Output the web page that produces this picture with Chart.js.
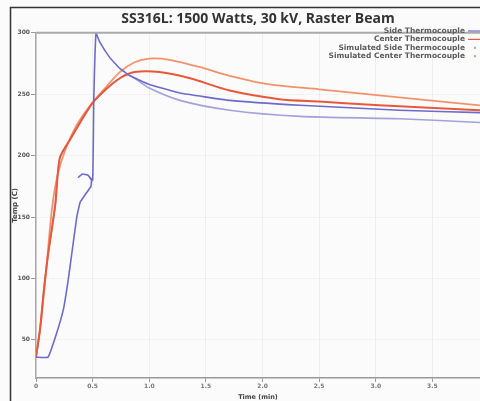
<!DOCTYPE html>
<html>
<head>
<meta charset="utf-8">
<script src="https://cdn.jsdelivr.net/npm/chart.js@4"></script>
<style>
  html, body { margin: 0; padding: 0; background: #fbfbfb; }
  #wrap { width: 480px; height: 401px; position: relative; }
</style>
</head>
<body>
<div id="wrap"><canvas id="c"></canvas></div>
<script>
// time (min) / temperature (C)
const sideTime = [0, 0.106, 0.17, 0.24, 0.28, 0.32, 0.36, 0.39, 0.44, 0.485, 0.49, 0.46, 0.41, 0.37, 0.41, 0.46, 0.50, 0.51, 0.53, 0.56, 0.65, 0.74, 0.83, 1.0, 1.27, 1.71, 2.33, 3.21, 3.92];
const sideTemp = [36, 36, 52, 74, 96, 123, 150, 162, 169, 175, 180, 184, 185, 182, 185, 184, 180, 245, 300, 293, 280, 271, 265, 258, 251, 245, 241, 237, 235];

const centerTime = [0, 0.035, 0.07, 0.106, 0.17, 0.21, 0.30, 0.39, 0.50, 0.63, 0.74, 0.87, 1.09, 1.36, 1.71, 2.15, 2.50, 3.03, 3.47, 3.92];
const centerTemp = [36, 58, 91, 119, 160, 198, 213, 227, 243, 255, 263, 268, 268, 263, 253, 246, 244, 241, 239, 237];

const simSideTime = [0, 0.035, 0.07, 0.106, 0.17, 0.21, 0.30, 0.39, 0.50, 0.63, 0.74, 0.80, 0.87, 1.0, 1.27, 1.71, 2.33, 3.21, 3.92];
const simSideTemp = [36, 58, 91, 119, 160, 198, 213, 227, 243, 255, 263, 266, 263, 255, 245, 237, 232, 230, 227];

const simCenterTime = [0, 0.045, 0.09, 0.14, 0.19, 0.26, 0.36, 0.48, 0.61, 0.74, 0.87, 1.0, 1.18, 1.45, 1.71, 2.06, 2.50, 3.03, 3.47, 3.92];
const simCenterTemp = [36, 66, 107, 156, 184, 205, 225, 241, 255, 268, 276, 279, 278, 272, 265, 258, 254, 249, 245, 241];

const seriesNames = ["Side Thermocouple", "Center Thermocouple", "Simulated Side Thermocouple", "Simulated Center Thermocouple"];
const xTicks = [0, 0.5, 1, 1.5, 2, 2.5, 3, 3.5];
const yTicks = [50, 100, 150, 200, 250, 300];

const COLORS = ["#6d6bc9", "#e8583a", "#a3a2d9", "#f0936c"];

function pts(xs, ys) {
    return xs.map((x, i) => ({ x: x, y: ys[i] }));
}

// frame around the figure, top border of the plot and a right-aligned legend
const framePlugin = {
    id: "frame",
    beforeDraw(chart) {
        const ctx = chart.ctx;
        ctx.save();
        ctx.strokeStyle = "#333";
        ctx.lineWidth = 1.5;
        ctx.beginPath();
        ctx.moveTo(490, 7.5);
        ctx.lineTo(10.5, 7.5);
        ctx.lineTo(10.5, 410);
        ctx.stroke();
        ctx.restore();
    },
    afterDatasetsDraw(chart) {
        const ctx = chart.ctx;
        const area = chart.chartArea;
        ctx.save();
        ctx.strokeStyle = "#aaa";
        ctx.lineWidth = 2;
        ctx.beginPath();
        ctx.moveTo(area.left, area.top);
        ctx.lineTo(area.right, area.top);
        ctx.stroke();

        ctx.font = "bold 7.5px 'DejaVu Sans', sans-serif";
        ctx.textAlign = "right";
        ctx.textBaseline = "middle";
        seriesNames.forEach((name, i) => {
            const y = 31 + i * 8.4;
            ctx.fillStyle = "#5a5a5a";
            ctx.fillText(name, 465, y);
            ctx.strokeStyle = COLORS[i];
            ctx.lineWidth = 1.2;
            if (i < 2) {
                ctx.beginPath();
                ctx.moveTo(468, y);
                ctx.lineTo(480, y);
                ctx.stroke();
            } else {
                ctx.fillStyle = COLORS[i];
                ctx.fillRect(474, y - 1, 2, 2);
            }
        });
        ctx.restore();
    },
};

new Chart(document.getElementById("c"), {
    type: "line",
    plugins: [framePlugin],
    data: {
        datasets: [
            { label: seriesNames[0], data: pts(sideTime, sideTemp), borderColor: COLORS[0], borderWidth: 1.6, tension: 0.1, order: 1 },
            { label: seriesNames[1], data: pts(centerTime, centerTemp), borderColor: COLORS[1], borderWidth: 2, order: 2 },
            { label: seriesNames[2], data: pts(simSideTime, simSideTemp), borderColor: COLORS[2], borderWidth: 1.6, order: 4 },
            { label: seriesNames[3], data: pts(simCenterTime, simCenterTemp), borderColor: COLORS[3], borderWidth: 1.8, order: 3 },
        ],
    },
    options: {
        responsive: true,
        maintainAspectRatio: false,
        animation: false,
        elements: {
            point: { radius: 0 },
            line: { tension: 0.25, fill: false },
        },
        layout: { padding: { left: 11, right: 0, top: 0, bottom: 0 } },
        plugins: {
            legend: { display: false },
            tooltip: { enabled: false },
            title: {
                display: true,
                fullSize: false,
                text: "SS316L: 1500 Watts, 30 kV, Raster Beam",
                color: "#333",
                font: { size: 14, weight: "bold", family: "'Open Sans', sans-serif" },
                padding: { top: 11, bottom: 5 },
            },
        },
        scales: {
            x: {
                type: "linear",
                min: 0,
                max: 3.92,
                afterBuildTicks: (scale) => { scale.ticks = xTicks.map((v) => ({ value: v })); },
                afterFit: (scale) => { scale.height = 23; },
                grid: { color: "rgba(0,0,0,0.05)", tickLength: 4, tickColor: "#999" },
                border: { color: "#999", width: 1.5 },
                ticks: {
                    color: "#777",
                    padding: 1,
                    maxRotation: 0,
                    font: { size: 6, weight: "bold", family: "'DejaVu Sans', sans-serif" },
                },
                title: {
                    display: true,
                    text: "Time (min)",
                    color: "#444",
                    padding: 0,
                    font: { size: 6.5, weight: "bold", family: "'DejaVu Sans', sans-serif" },
                },
            },
            y: {
                min: 19,
                max: 300,
                afterBuildTicks: (scale) => { scale.ticks = yTicks.map((v) => ({ value: v })); },
                afterFit: (scale) => { scale.width = 25; },
                grid: { color: "rgba(0,0,0,0.03)", tickLength: 5, tickColor: "#999" },
                border: { color: "#aaa", width: 1.5 },
                ticks: {
                    color: "#555",
                    padding: 1,
                    font: { size: 6, weight: "bold", family: "'DejaVu Sans', sans-serif" },
                },
                title: {
                    display: true,
                    text: "Temp (C)",
                    color: "#444",
                    padding: 0,
                    font: { size: 7, weight: "bold", family: "'DejaVu Sans', sans-serif" },
                },
            },
        },
    },
});
</script>
</body>
</html>
